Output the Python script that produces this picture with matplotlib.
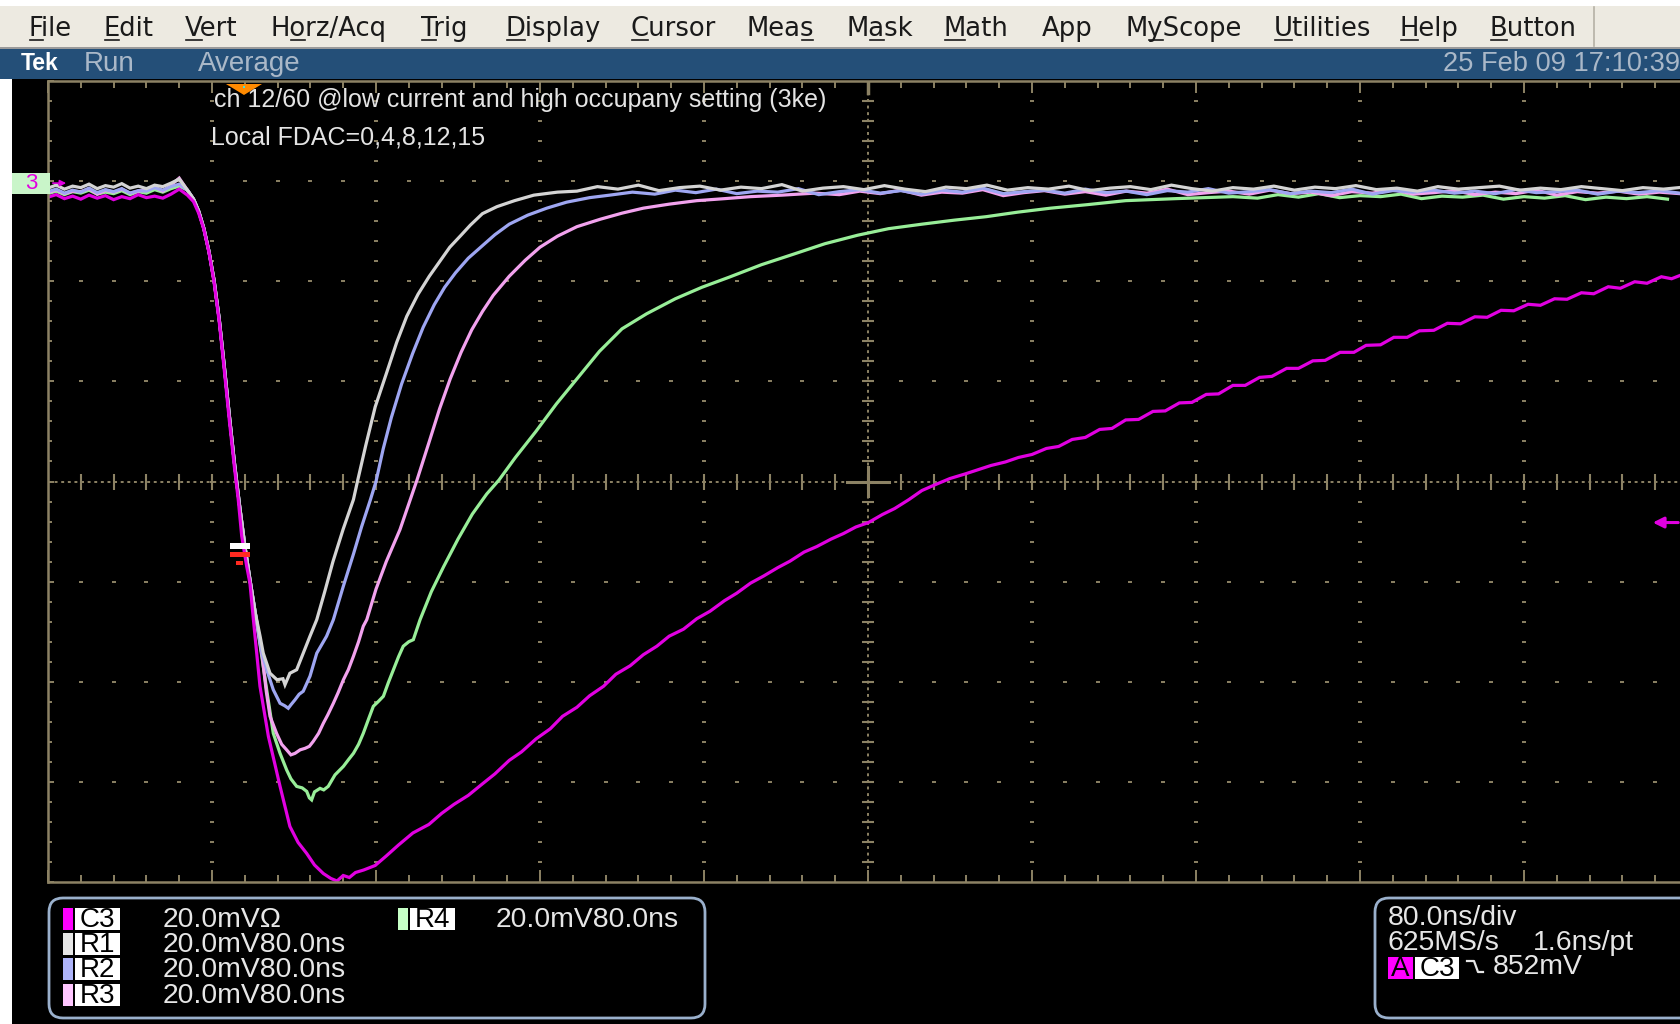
import numpy as np
import matplotlib
matplotlib.use("Agg")
import matplotlib.pyplot as plt
import matplotlib.transforms as mtransforms
from matplotlib.patches import Rectangle, FancyBboxPatch, Polygon

W, H = 1681, 1024

# screen: 80 ns/div horizontally, 20 mV/div vertically, values relative to screen centre
ns_per_div = 80.0
mv_per_div = 20.0

trigger_t = 95.6        # trigger position flag (ns)
trigger_level = -8.2    # C3 trigger level arrow (mV)
c3_offset = 59.6        # C3 position marker (mV)
trig_point = (93.5, -14.0)

# baseline before the edge, sampled every 4 ns from 0 ns
pre_t = np.arange(0, 65, 4)
c3_pre = [56.8, 57.3, 56.5, 57.0, 56.4, 57.2, 56.6, 57.1, 56.3, 56.9, 56.5, 57.3, 56.7, 57.0, 56.6, 57.4, 58.4]
r1_pre = [58.6, 59.2, 58.4, 59.0, 58.7, 59.4, 58.5, 59.1, 58.8, 59.5, 58.6, 59.0, 58.5, 59.2, 58.9, 59.6, 60.4]
r2_pre = [57.9, 58.4, 57.6, 58.2, 57.8, 58.6, 57.7, 58.3, 57.9, 58.5, 57.6, 58.1, 58.0, 58.7, 58.2, 58.9, 59.4]
r3_pre = [57.7, 58.3, 57.5, 58.0, 57.9, 58.5, 57.4, 58.2, 57.8, 58.4, 57.6, 58.0, 58.3, 58.8, 58.0, 59.2, 60.6]
r4_pre = [57.5, 58.0, 57.3, 57.9, 57.6, 58.2, 57.4, 57.8, 57.5, 58.1, 57.3, 57.9, 57.6, 58.3, 57.8, 58.5, 59.0]

# falling edge shared by the reference traces
edge = [(68, 58.2), (71, 56.4), (73.5, 54.0), (76, 50.6), (78.5, 46.0), (81, 40.2), (83.5, 32.5),
        (86, 23.0), (88.5, 13.0), (91, 3.5), (93.5, -5.0), (96, -12.8), (98.5, -19.6), (101, -26.0)]

c3_pulse = [(68, 57.2), (71, 55.9), (73.5, 53.6), (76, 50.4), (78.5, 45.8), (81, 39.8), (83.5, 32.0),
            (86, 22.2), (88.5, 12.0), (91, 2.6), (92.8, -3.6), (94.5, -10.9), (96.9, -16.9), (98.5, -20.3),
            (100.2, -27.6), (103.4, -40.9), (107.5, -50.9), (113.2, -60.9), (118, -68.9), (122, -72.1),
            (126.2, -74.3), (130, -76.6), (134.3, -78.3), (138, -79.3), (141, -79.8), (144, -78.7),
            (147, -79.1), (150, -78.1), (154, -77.6), (159.6, -76.7), (165, -74.8), (171, -72.6),
            (178, -70.2), (185.8, -68.5), (192, -66.3), (198, -64.5), (205, -62.7), (211.9, -60.4),
            (218, -58.4), (225, -55.7), (231, -54.0), (238.1, -51.4), (245, -49.4), (251, -46.9),
            (258, -45.1), (264.2, -42.8), (271, -40.9), (277, -38.5), (284, -36.8), (290.4, -34.6),
            (297, -32.9), (303, -30.9), (310, -29.5), (316.5, -27.4), (323, -25.9), (330, -23.8),
            (336, -22.3), (342.7, -20.3), (349, -18.9), (356, -17.2), (362, -15.9), (368.8, -14.1),
            (375, -13.0), (382, -11.5), (388, -10.4), (394, -9.1), (400.2, -8.2), (407, -6.6),
            (413, -5.4), (420, -3.6), (426.3, -1.8), (433, -0.6), (440, 0.6), (447.3, 1.5),
            (454, 2.4), (460, 3.2), (467, 3.9), (473.4, 4.8), (480, 5.4), (487, 6.6), (493, 7.0),
            (499.6, 8.4), (506, 8.8), (513, 10.4), (519, 10.6), (525.7, 12.3), (532, 12.4),
            (539, 14.0), (545, 14.1), (551.9, 15.7), (558, 15.8), (565, 17.4), (571, 17.5),
            (578, 19.2), (584, 19.2), (591, 20.8), (597, 21.0), (604.2, 22.6), (610, 22.6),
            (617, 24.1), (623, 24.2), (630.3, 25.8), (637, 25.8), (643, 27.2), (650, 27.3),
            (656.5, 28.8), (663, 28.8), (669, 30.1), (676, 30.2), (682.6, 31.6), (689, 31.5),
            (696, 32.9), (702, 32.8), (708.8, 34.2), (715, 34.1), (722, 35.4), (728, 35.2),
            (734.9, 36.5), (741, 36.4), (748, 37.7), (754, 37.5), (761.1, 38.9), (767, 38.6),
            (774, 39.9), (780, 39.6), (787, 40.9), (792, 40.5), (797, 41.3)]

r1_pulse = [(103.5, -31.0), (105, -34.3), (108.3, -38.3), (111.7, -39.6), (114.6, -39.4), (115.6, -40.6),
            (118, -38.3), (121.3, -37.6), (124.5, -34.3), (127.8, -30.9), (131.1, -27.6), (135, -22.0),
            (139, -16.0), (144, -9.5), (149, -3.6), (151, 0.1), (155, 7.2), (159.6, 14.9), (165, 21.5),
            (170.1, 27.8), (175, 33.0), (180.5, 37.4), (186, 41.0), (191, 43.9), (196, 46.8),
            (201.5, 49.2), (206, 51.2), (211.9, 53.5), (219, 54.9), (227.6, 56.1), (237, 57.2),
            (248.5, 57.8)]
r2_pulse = [(104.5, -34.5), (106.7, -37.6), (109.9, -41.6), (113.2, -44.3), (115.5, -44.8), (117.2, -45.3),
            (118.5, -44.6), (120.5, -43.6), (122.5, -42.5), (124.5, -41.9), (127.8, -38.9), (131.1, -34.3),
            (135.9, -30.9), (139.2, -27.6), (144, -21.0), (149, -14.5), (153, -9.0), (157.3, -3.6),
            (160, 0.0), (163.5, 6.5), (167.5, 12.8), (172.5, 19.5), (177.9, 25.6), (183, 30.8),
            (188.4, 35.3), (193.5, 38.8), (198.8, 41.7), (205, 44.6), (211.9, 47.1), (218, 49.3),
            (225, 51.4), (234, 53.2), (243.3, 54.6), (253, 55.8), (264.2, 56.7), (274, 57.2),
            (285.1, 57.8)]
r3_pulse = [(104.5, -35.0), (106.5, -42.0), (108.3, -46.9), (111.5, -50.3), (114, -52.5), (116.4, -53.6),
            (118.5, -54.6), (120.5, -54.3), (123, -53.6), (125.4, -53.3), (127.5, -52.9), (129.4, -51.9),
            (132, -50.3), (134.3, -48.3), (136.5, -46.6), (139.2, -44.3), (141.5, -42.2), (144.1, -39.6),
            (146.5, -37.6), (149, -34.9), (151.5, -32.0), (153.8, -28.9), (155.5, -27.6), (160, -21.5),
            (165, -16.0), (171.7, -9.6), (180, 0.3), (186, 8.0), (191, 14.5), (196.2, 20.5),
            (201.5, 25.8), (206.7, 30.3), (212, 34.0), (217.2, 37.2), (225, 41.0), (232.8, 44.2),
            (240, 46.8), (248.5, 49.0), (258, 50.9), (269.5, 52.4), (280, 53.6), (290.4, 54.6),
            (303, 55.4), (316.5, 56.1), (330, 56.5), (342.7, 56.9), (358, 57.2), (374, 57.6)]
r4_pulse = [(104.5, -35.5), (107, -42.5), (109.9, -50.3), (113.2, -54.3), (116.4, -57.6), (118.5, -59.4),
            (121.3, -60.9), (124, -61.2), (126.2, -61.9), (127.5, -63.2), (128.6, -63.6), (130, -62.0),
            (132.7, -61.3), (134.5, -61.6), (136.7, -60.9), (140, -58.6), (144.1, -56.9), (146.5, -55.6),
            (149, -54.3), (151.5, -52.5), (153.8, -50.3), (156.5, -47.3), (158.7, -44.9), (161, -44.0),
            (163.6, -42.9), (166, -40.2), (168.5, -37.6), (171, -35.0), (173.3, -32.9), (176, -32.0),
            (178.2, -31.6), (181.5, -27.6), (187, -22.0), (193, -17.0), (200, -11.5), (207, -6.5),
            (214, -2.5), (220, 0.3), (228, 4.8), (238, 10.0), (248, 15.5), (259, 21.0), (269, 26.0),
            (280, 30.5), (292, 33.5), (306, 36.5), (319, 38.8), (332.2, 40.8), (348, 43.3),
            (363.6, 45.4), (379, 47.5), (395, 49.2), (410, 50.5), (426.3, 51.4), (442, 52.2),
            (457.7, 52.9), (473, 53.8), (489.1, 54.6), (507, 55.3), (525.7, 56.1), (550, 56.5),
            (578, 56.9)]

# settled baseline after recovery, sampled every 10 ns from the given start
tail_step = 10
r1_tail_start, r1_tail = 258, [58.0, 58.9, 58.4, 59.2, 58.1, 58.7, 59.0, 58.2, 58.8, 58.5,
                               59.3, 58.0, 58.6, 58.9, 58.3, 59.1, 58.4, 57.9, 58.8, 58.5,
                               59.2, 58.2, 58.7, 58.4, 59.0, 58.1, 58.6, 58.9, 58.3, 59.2,
                               58.5, 58.0, 58.7, 58.4, 59.0, 58.2, 58.8, 58.5, 59.1, 58.3,
                               58.6, 58.0, 58.9, 58.4, 58.7, 59.0, 58.2, 58.6, 58.3, 58.9,
                               58.5, 58.1, 58.7, 58.4, 58.8]
r2_tail_start, r2_tail = 296, [57.4, 58.2, 57.7, 58.4, 57.5, 58.0, 57.8, 58.5, 57.3, 57.9,
                               58.3, 57.6, 58.1, 57.4, 58.2, 57.8, 58.6, 57.5, 57.9, 58.2,
                               57.6, 58.4, 57.7, 58.0, 57.3, 58.1, 57.8, 58.5, 57.6, 57.9,
                               58.3, 57.5, 58.0, 57.7, 58.4, 57.4, 58.1, 57.8, 58.2, 57.6,
                               58.0, 57.5, 58.3, 57.7, 57.9, 58.2, 57.4, 58.0, 57.7, 58.1, 57.6]
r3_tail_start, r3_tail = 386, [57.3, 58.0, 57.5, 58.2, 57.2, 57.8, 57.6, 58.3, 57.1, 57.7,
                               58.1, 57.4, 57.9, 57.2, 58.0, 57.6, 58.4, 57.3, 57.7, 58.0,
                               57.4, 58.2, 57.5, 57.8, 57.1, 57.9, 57.6, 58.3, 57.4, 57.7,
                               58.1, 57.3, 57.8, 57.5, 58.2, 57.2, 57.9, 57.6, 58.0, 57.4,
                               57.8, 57.5]
r4_tail_start, r4_tail = 590, [56.6, 57.3, 56.8, 57.5, 56.7, 57.1, 56.9, 57.4, 56.5, 57.0,
                               56.8, 57.2, 56.4, 56.9, 56.6, 57.1, 56.3, 56.8, 56.5, 56.9, 56.4]

menu_items = ["File", "Edit", "Vert", "Horz/Acq", "Trig", "Display", "Cursor", "Meas",
              "Mask", "Math", "App", "MyScope", "Utilities", "Help", "Button"]
menu_x = [29, 104, 185, 271, 421, 506, 631, 747, 847, 944, 1042, 1126, 1274, 1400, 1490]
menu_underline = [0, 0, 0, 1, 0, 0, 0, 3, 1, 0, None, 1, 0, 0, 0]

readout_rows = [("C3", "20.0mV\u03a9"), ("R1", "20.0mV80.0ns"), ("R2", "20.0mV80.0ns"), ("R3", "20.0mV80.0ns")]
r4_readout = ("R4", "20.0mV80.0ns")
timebase_lines = ["80.0ns/div", "625MS/s", "1.6ns/pt"]
trigger_readout = "852mV"

grat = "#8c8264"
c3_col, r1_col, r2_col, r3_col, r4_col = "#e100e1", "#d4d4d4", "#9ea6f2", "#f2a2ee", "#98ee98"
swatch = {"C3": "#ff00ff", "R1": "#e6e6e6", "R2": "#aeb4fa", "R3": "#ffc6ff", "R4": "#c6ffc6"}
txt_col = "#e6e6e6"
scope_font = "Liberation Sans"


def build(pre, pulse, tail_start=None, tail=None, shared_edge=None):
    t = list(pre_t)
    v = list(pre)
    for seg in (shared_edge or [], pulse):
        t += [p[0] for p in seg]
        v += [p[1] for p in seg]
    if tail is not None:
        t += list(tail_start + tail_step * np.arange(len(tail)))
        v += list(tail)
    return np.array(t), np.array(v)


fig = plt.figure(figsize=(W / 100, H / 100), dpi=100)
fig.patch.set_facecolor("white")
# pixel coordinates with the origin at the top-left corner
px = mtransforms.Affine2D().scale(1 / W, -1 / H).translate(0, 1) + fig.transFigure


def rect(x, y, w, h, color, z=-1, **kw):
    r = Rectangle((x, y), w, h, transform=px, facecolor=color, edgecolor="none", zorder=z, **kw)
    fig.add_artist(r)
    return r


# menu bar, status bar and screen background
rect(0, 6, W, 41, "#edeae1")
rect(0, 47, W, 2, "#9a9a9a")
rect(0, 49, W, 30, "#244f78")
rect(12, 79, W - 12, H - 79, "black")
fig.add_artist(plt.Line2D([1594, 1594], [7, 46], transform=px, color="#b5b1a6", lw=1.2))

renderer = fig.canvas.get_renderer()
menu_kw = dict(fontsize=18.6, family="DejaVu Sans", color="#1a1a1a", va="baseline", ha="left", transform=px)
for label, x, ul in zip(menu_items, menu_x, menu_underline):
    fig.text(x, 36, label, **menu_kw)
    if ul is None:
        continue
    pre_w = 0.0
    if ul > 0:
        tmp = fig.text(0, 0, label[:ul], **menu_kw)
        pre_w = tmp.get_window_extent(renderer).width
        tmp.remove()
    tmp = fig.text(0, 0, label[ul], **menu_kw)
    cw = tmp.get_window_extent(renderer).width
    tmp.remove()
    fig.add_artist(plt.Line2D([x + pre_w + 1, x + pre_w + cw - 1], [39.5, 39.5], transform=px,
                              color="#1a1a1a", lw=1.2))

bar_kw = dict(transform=px, va="center", ha="left", family=scope_font)
fig.text(21, 63, "Tek", fontsize=16.5, weight="bold", color="white", **bar_kw)
fig.text(84, 64, "Run", fontsize=20, color="#aab8c8", **bar_kw)
fig.text(198, 64, "Average", fontsize=20, color="#aab8c8", **bar_kw)
fig.text(1443, 64, "25 Feb 09 17:10:39", fontsize=19.6, color="#aab8c8", **bar_kw)

# graticule: 10 x 8 divisions, the right edge runs past the window
ax = fig.add_axes([48 / W, (H - 882) / H, 1640 / W, 801 / H])
ax.set_facecolor("black")
ax.set_xlim(0, 10 * ns_per_div)
ax.set_ylim(-4 * mv_per_div, 4 * mv_per_div)
for side in ("left", "top", "bottom", "right"):
    ax.spines[side].set_color(grat)
    ax.spines[side].set_linewidth(1.8)
ax.set_xticks(np.arange(0, 801, ns_per_div))
ax.set_xticks(np.arange(0, 801, ns_per_div / 5), minor=True)
ax.set_yticks(np.arange(-80, 81, mv_per_div))
ax.set_yticks(np.arange(-80, 81, mv_per_div / 5), minor=True)
ax.tick_params(which="both", direction="in", colors=grat, top=True, bottom=True, left=True, right=False,
               labelbottom=False, labelleft=False)
ax.tick_params(axis="x", which="major", length=8.5, width=1.4)
ax.tick_params(axis="x", which="minor", length=5, width=1.4)
ax.tick_params(axis="y", which="major", length=4, width=1.4)
ax.tick_params(axis="y", which="minor", length=3, width=1.4)

minor_y = np.arange(-76, 77, mv_per_div / 5)
minor_x = np.arange(16, 785, ns_per_div / 5)
for k in range(1, 10):
    if k == 5:
        continue
    ax.plot(np.full_like(minor_y, k * ns_per_div), minor_y, ls="none", marker="_", ms=3.5, mew=1.4, color=grat)
for j in (-3, -2, -1, 1, 2, 3):
    ax.plot(minor_x, np.full_like(minor_x, j * mv_per_div), ls="none", marker="_", ms=3.5, mew=1.4, color=grat)

# centre cross with fine dashes and tick bars
ax.plot([0, 800], [0, 0], color=grat, lw=1.4, ls=(0, (1.5, 1.9)))
ax.plot([400, 400], [-80, 80], color=grat, lw=1.4, ls=(0, (1.5, 1.9)))
ax.plot(minor_x, np.zeros_like(minor_x), ls="none", marker="|", ms=11, mew=1.5, color=grat)
ax.plot(np.full_like(minor_y, 400.0), minor_y, ls="none", marker="_", ms=8.5, mew=1.5, color=grat)
ax.plot([389.8, 410.2], [0, 0], color=grat, lw=2.2)
ax.plot([400, 400], [-2.8, 2.8], color=grat, lw=2.2)
ax.plot([400, 400], [77.6, 80], color=grat, lw=2.5)

# waveforms: references first, live channel on top
traces = [
    (build(r4_pre, r4_pulse, r4_tail_start, r4_tail, edge), r4_col),
    (build(r3_pre, r3_pulse, r3_tail_start, r3_tail, edge), r3_col),
    (build(r2_pre, r2_pulse, r2_tail_start, r2_tail, edge), r2_col),
    (build(r1_pre, r1_pulse, r1_tail_start, r1_tail, edge), r1_col),
    (build(c3_pre, c3_pulse), c3_col),
]
for (t, v), col in traces:
    ax.plot(t, v, color=col, lw=2.3, solid_joinstyle="miter")

# trigger position flag on the top edge
flag_tr = mtransforms.blended_transform_factory(ax.transData, ax.transAxes)
flag = Polygon([(trigger_t - 8.8, 1 - 3 / 801), (trigger_t + 8.8, 1 - 3 / 801), (trigger_t, 1 - 14 / 801)],
               closed=True, transform=flag_tr, facecolor="#ff8a00", edgecolor="none", clip_on=False, zorder=5)
ax.add_patch(flag)
ax.plot([trigger_t], [1 - 6 / 801], marker="s", ms=2, color="#40e0e0", mew=0,
        transform=flag_tr, clip_on=False, zorder=6)

# trigger point glyph on the edge
tx, tv = trig_point
ax.add_patch(Rectangle((tx - 4.9, tv + 0.6), 9.8, 1.2, facecolor="white", edgecolor="none", zorder=6))
ax.add_patch(Rectangle((tx - 4.9, tv - 1.0), 9.8, 0.9, facecolor="#ff2a20", edgecolor="none", zorder=6))
ax.add_patch(Rectangle((tx - 1.8, tv - 2.6), 3.6, 0.8, facecolor="#ff2a20", edgecolor="none", zorder=6))

# channel 3 position marker on the left edge
fx_dy = mtransforms.blended_transform_factory(mtransforms.Affine2D().scale(1 / W, 1) + fig.transFigure,
                                              ax.transData)
fig.add_artist(Rectangle((12, c3_offset - 2.1), 38, 4.2, transform=fx_dy, facecolor="#c9f5c9",
                         edgecolor="none", zorder=4))
fig.text(31, c3_offset, "3", transform=fx_dy, color=c3_col, fontsize=16, ha="center", va="center",
         family=scope_font, zorder=6)
ax.annotate("", xy=(69, c3_offset), xytext=(50, c3_offset), xycoords=("figure pixels", "data"),
            textcoords=("figure pixels", "data"),
            arrowprops=dict(arrowstyle="-|>", color=c3_col, lw=1.2, mutation_scale=9), annotation_clip=False)

# trigger level arrow on the right edge
ax.annotate("", xy=(1650, trigger_level), xytext=(1681, trigger_level), xycoords=("figure pixels", "data"),
            textcoords=("figure pixels", "data"),
            arrowprops=dict(arrowstyle="-|>", color=c3_col, lw=2.2, mutation_scale=16), annotation_clip=False)

note_kw = dict(transform=px, color="#e4e4e4", fontsize=18, family=scope_font, ha="left", va="center")
fig.text(214, 100, "ch 12/60 @low current and high occupany setting (3ke)", **note_kw)
fig.text(211, 138, "Local FDAC=0,4,8,12,15", **note_kw)

# readout panels
for x0, x1 in ((49, 705), (1375, 1710)):
    fig.add_artist(FancyBboxPatch((x0, 898), x1 - x0, 120, boxstyle="round,pad=0,rounding_size=14",
                                  transform=px, facecolor="black", edgecolor="#9ab0cc", lw=2.0))

ro_kw = dict(transform=px, color=txt_col, fontsize=20.4, family=scope_font, ha="left", va="center")
lab_kw = dict(transform=px, color="black", fontsize=20, family=scope_font, ha="center", va="center")


def readout(x, y, name, value, value_x):
    rect(x, y - 11, 10, 22, swatch[name], z=3)
    rect(x + 12, y - 11, 45, 22, "white", z=3)
    fig.text(x + 34.5, y + 1, name, **lab_kw)
    fig.text(value_x, y + 1, value, **ro_kw)


row_y = [919, 944, 969, 995]
for (name, value), y in zip(readout_rows, row_y):
    readout(63, y, name, value, 163)
readout(398, row_y[0], r4_readout[0], r4_readout[1], 496)

fig.text(1388, 918, timebase_lines[0], **ro_kw)
fig.text(1388, 943, timebase_lines[1], **ro_kw)
fig.text(1533, 943, timebase_lines[2], **ro_kw)
rect(1388, 957, 25, 22, "#ff00ff", z=3)
fig.text(1400.5, 969, "A", **lab_kw)
rect(1415, 957, 44, 22, "white", z=3)
fig.text(1437, 969, "C3", **lab_kw)
fig.add_artist(plt.Line2D([1467, 1474, 1478, 1483], [961, 961, 972, 972], transform=px, color=txt_col, lw=1.6))
fig.text(1493, 967, trigger_readout, **ro_kw)

fig.savefig("out.png", dpi=100, facecolor=fig.get_facecolor())
